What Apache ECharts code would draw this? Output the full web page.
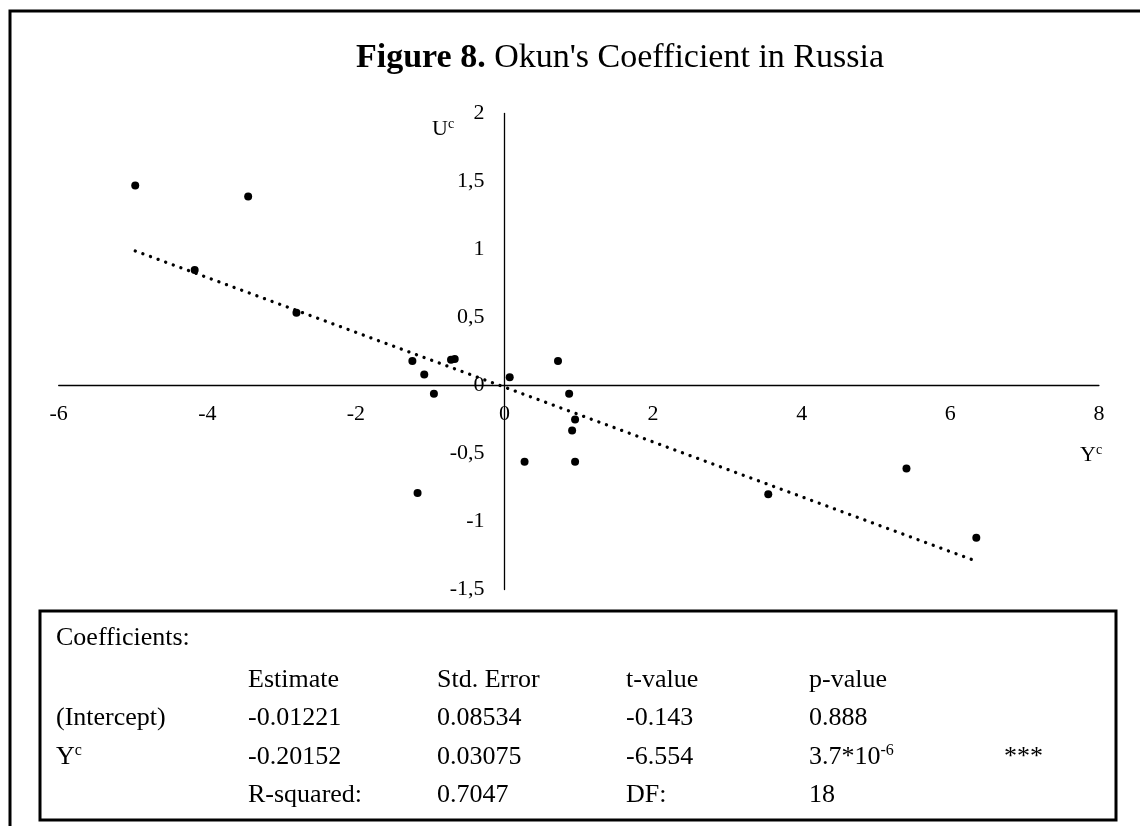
<!DOCTYPE html>
<html>
<head>
<meta charset="utf-8">
<script src="https://cdn.jsdelivr.net/npm/echarts@6/dist/echarts.min.js"></script>
<style>
  html, body { margin: 0; padding: 0; background: #fff; }
  #chart { width: 1140px; height: 826px; }
</style>
</head>
<body>
<div id="chart"></div>
<script>
// Cyclical components: output gap (Yc, %) and unemployment gap (Uc, p.p.)
const outputGap = [-4.97, -4.17, -3.45, -2.80, -1.24, -1.17, -1.08, -0.95, -0.72, -0.67,
                   0.07, 0.27, 0.72, 0.87, 0.91, 0.95, 0.95, 3.55, 5.41, 6.35];
const unemploymentGap = [1.47, 0.85, 1.39, 0.535, 0.18, -0.79, 0.08, -0.06, 0.19, 0.195,
                         0.06, -0.56, 0.18, -0.06, -0.33, -0.25, -0.56, -0.80, -0.61, -1.12];

// OLS estimates of Uc = a + b * Yc
const interceptEstimate = -0.01221;
const slopeEstimate = -0.20152;

// Axis ranges: [min, max, step]
const xRange = [-6, 8, 2];
const yRange = [-1.5, 2, 0.5];

// Regression summary table
const tableTitle = 'Coefficients:';
const tableHeader = ['', 'Estimate', 'Std. Error', 't-value', 'p-value', ''];
const rowIntercept = ['(Intercept)', '-0.01221', '0.08534', '-0.143', '0.888', ''];
const rowSlope = ['{n|Y}{s|c}', '-0.20152', '0.03075', '-6.554', '{n|3.7*10}{s|-6}', '***'];
const rowFit = ['', 'R-squared:', '0.7047', 'DF:', '18', ''];

const FONT = '"Liberation Serif", "Times New Roman", serif';
const points = outputGap.map((x, i) => [x, unemploymentGap[i]]);
const xMin = Math.min(...outputGap), xMax = Math.max(...outputGap);
const fitLine = [xMin, xMax].map(x => [x, interceptEstimate + slopeEstimate * x]);

// Plot area and the offsets that put both axes through the origin
const W = 1140, H = 826;
const grid = { left: 58.7, right: 41.1, top: 113.5, bottom: 236.5 };
const plotW = W - grid.left - grid.right;
const plotH = H - grid.top - grid.bottom;
const yAxisOffset = -plotW * (0 - xRange[0]) / (xRange[1] - xRange[0]);
const xAxisOffset = -plotH * (0 - yRange[0]) / (yRange[1] - yRange[0]);

const supRich = {
  n: { fontFamily: FONT, fontSize: 26, fill: '#000', lineHeight: 30 },
  s: { fontFamily: FONT, fontSize: 16, fill: '#000', lineHeight: 30, padding: [0, 0, 12, 0] }
};

const colX = [56, 248, 437, 626, 809, 1004];
const rowY = [680, 718, 757, 795];
const tableRows = [tableHeader, rowIntercept, rowSlope, rowFit];
const tableTexts = [];
tableTexts.push({
  type: 'text', x: colX[0], y: 638,
  style: { text: tableTitle, font: '26px ' + FONT, fill: '#000', verticalAlign: 'middle' }
});
tableRows.forEach((row, r) => {
  row.forEach((cell, c) => {
    if (!cell) return;
    tableTexts.push({
      type: 'text', x: colX[c], y: rowY[r],
      style: { text: cell, rich: supRich, font: '26px ' + FONT, fill: '#000', verticalAlign: 'middle' }
    });
  });
});

const chart = echarts.init(document.getElementById('chart'), null, { renderer: 'canvas' });

const axisNameRich = {
  n: { fontFamily: FONT, fontSize: 22, fill: '#000', lineHeight: 26 },
  s: { fontFamily: FONT, fontSize: 14, fill: '#000', lineHeight: 26, padding: [0, 0, 10, 0] }
};

chart.setOption({
  animation: false,
  backgroundColor: '#fff',
  grid: Object.assign({ containLabel: false, outerBoundsMode: 'none' }, grid),
  xAxis: {
    type: 'value',
    position: 'bottom',
    offset: xAxisOffset,
    min: xRange[0], max: xRange[1], interval: xRange[2],
    axisLine: { show: true, onZero: false, lineStyle: { color: '#000', width: 1.3 } },
    axisTick: { show: false },
    splitLine: { show: false },
    axisLabel: { fontFamily: FONT, fontSize: 22, color: '#000', margin: 18 }
  },
  yAxis: {
    type: 'value',
    position: 'left',
    offset: yAxisOffset,
    min: yRange[0], max: yRange[1], interval: yRange[2],
    axisLine: { show: true, onZero: false, lineStyle: { color: '#000', width: 1.3 } },
    axisTick: { show: false },
    splitLine: { show: false },
    axisLabel: {
      fontFamily: FONT, fontSize: 22, color: '#000', margin: 20,
      formatter: v => String(v).replace('.', ',')
    }
  },
  series: [
    {
      type: 'line',
      data: fitLine,
      showSymbol: false,
      silent: true,
      lineStyle: { color: '#000', width: 3.3, type: [0.1, 8], cap: 'round' },
      z: 2
    },
    {
      type: 'scatter',
      data: points,
      symbol: 'circle',
      symbolSize: 8,
      itemStyle: { color: '#000', opacity: 1 },
      z: 3
    }
  ],
  graphic: [
    {
      type: 'rect', shape: { x: 10, y: 11, width: 1160, height: 900 },
      style: { fill: 'none', stroke: '#000', lineWidth: 3 }, silent: true
    },
    {
      type: 'text', x: 620, y: 58,
      style: {
        text: '{b|Figure 8.}{r| Okun\'s Coefficient in Russia}',
        rich: {
          b: { fontFamily: FONT, fontSize: 34, fontWeight: 'bold', fill: '#000' },
          r: { fontFamily: FONT, fontSize: 34, fill: '#000' }
        },
        align: 'center', verticalAlign: 'middle'
      }
    },
    {
      type: 'text', x: 432, y: 129,
      style: { text: '{n|U}{s|c}', rich: axisNameRich, verticalAlign: 'middle' }
    },
    {
      type: 'text', x: 1080, y: 455,
      style: { text: '{n|Y}{s|c}', rich: axisNameRich, verticalAlign: 'middle' }
    },
    {
      type: 'rect', shape: { x: 40, y: 611, width: 1076, height: 209 },
      style: { fill: '#fff', stroke: '#000', lineWidth: 3 }, silent: true
    },
    ...tableTexts
  ]
});
</script>
</body>
</html>
